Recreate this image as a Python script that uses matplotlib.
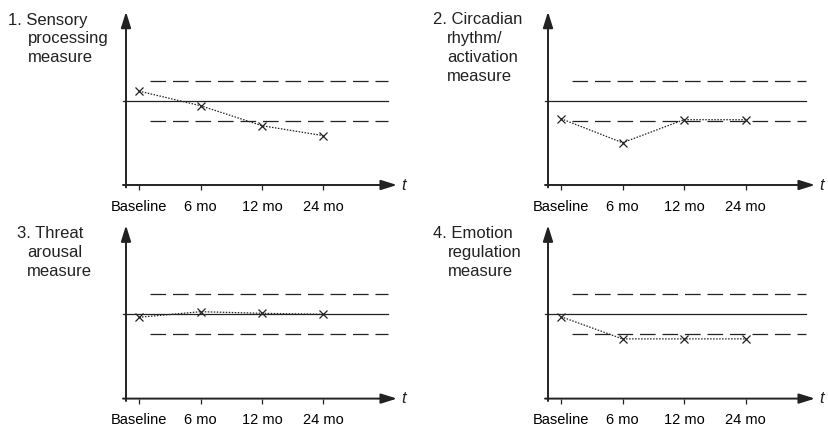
import numpy as np
import matplotlib
matplotlib.use('Agg')
import matplotlib.pyplot as plt

plt.rcParams['font.family'] = ['Liberation Sans', 'DejaVu Sans']

# 数据
timepoints = ['Baseline', '6 mo', '12 mo', '24 mo']
sensory = [0.48, -0.25, -1.25, -1.75]
circadian = [-0.9, -2.1, -0.95, -0.95]
threat = [-0.15, 0.13, 0.05, 0.0]
emotion = [-0.12, -1.23, -1.23, -1.23]

titles = [
    ['1. Sensory', 'processing', 'measure'],
    ['2. Circadian', 'rhythm/', 'activation', 'measure'],
    ['3. Threat', 'arousal', 'measure'],
    ['4. Emotion', 'regulation', 'measure'],
]
series = [sensory, circadian, threat, emotion]

W, H = 829, 430
fig = plt.figure(figsize=(W / 100, H / 100), dpi=100)

# 每个面板: 基线刻度x像素, 中线y像素, 标题x, 缩进x, 箭头长度
panels = [
    (139, 100.7, 8, 28, 258),
    (561, 100.7, 433, 447, 254),
    (139, 314.3, 17, 27, 258),
    (561, 314.3, 433, 448, 254),
]

step = 61.5   # 每个时间点的像素
unit = 20.0   # 每个y单位的像素
ink = '#222222'

for (b, c, tx, ix, rlen), vals, title in zip(panels, series, titles):
    left_px, right_px = b - 16, b + rlen
    top_px, bot_px = c - 89, c + 84.3
    ax = fig.add_axes([left_px / W, 1 - bot_px / H,
                       (right_px - left_px) / W, (bot_px - top_px) / H])
    x0, x1 = -16 / step, rlen / step
    y0, y1 = -84.3 / unit, 89 / unit
    ax.set_xlim(x0, x1)
    ax.set_ylim(y0, y1)
    for s in ax.spines.values():
        s.set_visible(False)

    # 坐标轴箭头
    arrow = dict(arrowstyle='-|>,head_length=0.8,head_width=0.25',
                 mutation_scale=12, lw=1.4, color=ink, shrinkA=0, shrinkB=0)
    ax.annotate('', xy=(x1, y0), xytext=(x0, y0), annotation_clip=False,
                arrowprops=arrow)
    yx = -13 / step
    ax.annotate('', xy=(yx, y1), xytext=(yx, y0 - 0.12), annotation_clip=False,
                arrowprops=arrow)

    # 参考线
    line_end = (rlen - 9) / step
    ax.plot([x0, line_end], [0, 0], color=ink, lw=0.9, clip_on=False)
    for yv in (1, -1):
        ax.plot([11 / step, line_end], [yv, yv], color=ink, lw=0.9,
                linestyle=(0, (12.5, 5.5)), clip_on=False)

    # 数据
    xs = np.arange(len(timepoints))
    ax.plot(xs, vals, color=ink, lw=0.9, linestyle=(0, (1.2, 1.2)))
    ax.plot(xs, vals, linestyle='none', marker='x', ms=6, mew=0.9, color=ink)

    ax.set_xticks(xs)
    ax.set_xticklabels(timepoints, fontsize=10.5)
    ax.set_yticks([])
    ax.tick_params(axis='x', length=3.5, width=0.9, pad=7, color=ink)

    # t 标签
    fig.text((right_px + 7) / W, 1 - bot_px / H, 't', fontsize=12,
             style='italic', ha='center', va='center', color=ink)

    # 标题
    for i, line in enumerate(title):
        x = tx if i == 0 else ix
        y = (c - 80.7) + i * 18.8
        fig.text(x / W, 1 - y / H, line, fontsize=12, ha='left', va='center',
                 color=ink)

plt.savefig('out.png', dpi=100)
